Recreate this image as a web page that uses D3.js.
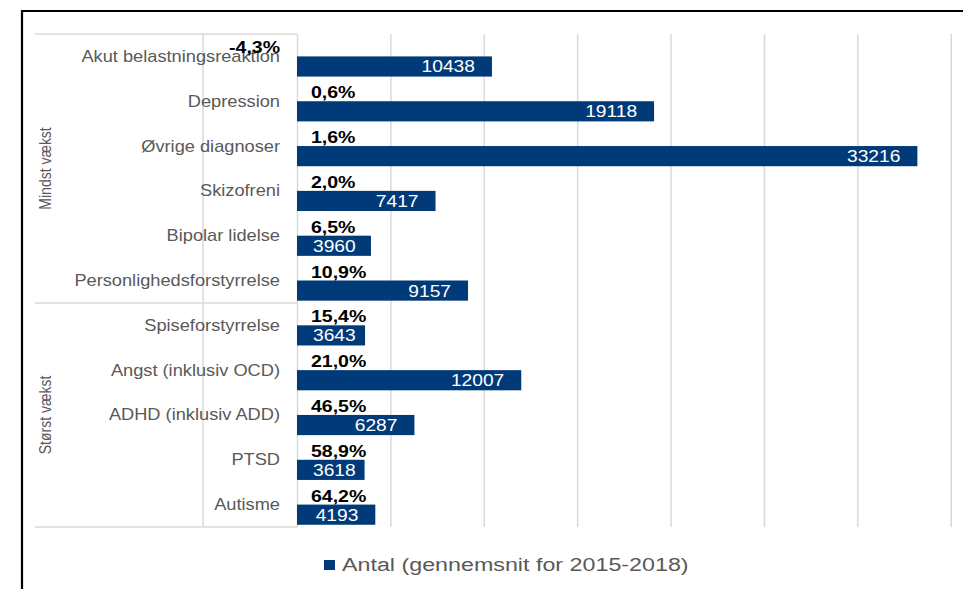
<!DOCTYPE html>
<html>
<head>
<meta charset="utf-8">
<script src="https://cdn.jsdelivr.net/npm/d3@7"></script>
<style>
  html, body { margin: 0; padding: 0; background: #fff; }
  svg { display: block; font-family: "Liberation Sans", Arial, sans-serif; }
</style>
</head>
<body>
<svg id="chart" width="963" height="589"></svg>
<script>
// data
const categories = ["Akut belastningsreaktion", "Depression", "Øvrige diagnoser", "Skizofreni",
  "Bipolar lidelse", "Personlighedsforstyrrelse", "Spiseforstyrrelse", "Angst (inklusiv OCD)",
  "ADHD (inklusiv ADD)", "PTSD", "Autisme"];
const antal = [10438, 19118, 33216, 7417, 3960, 9157, 3643, 12007, 6287, 3618, 4193];
const growth = [-4.3, 0.6, 1.6, 2.0, 6.5, 10.9, 15.4, 21.0, 46.5, 58.9, 64.2];
const groupNames = ["Mindst vækst", "Størst vækst"];
const groupOf = [0, 0, 0, 0, 0, 0, 1, 1, 1, 1, 1];
const gridTicks = [0, 5000, 10000, 15000, 20000, 25000, 30000, 35000];
const legendLabel = "Antal (gennemsnit for 2015-2018)";

const navy = "#003a78";
const grey = "#595959";
const gridCol = "#d9d9d9";

const svg = d3.select("#chart");
const yTop = 34, yBottom = 527;
const x = d3.scaleLinear().domain([0, 35000]).range([297, 950.7]);
const y = d3.scaleBand().domain(categories).range([yTop, yBottom]).padding(0);
const bw = y.bandwidth();

// outer frame (only top + left visible)
svg.append("line").attr("x1", 21).attr("x2", 963).attr("y1", 11).attr("y2", 11)
  .attr("stroke", "#000").attr("stroke-width", 2.2);
svg.append("line").attr("x1", 22).attr("x2", 22).attr("y1", 10).attr("y2", 589)
  .attr("stroke", "#000").attr("stroke-width", 2.2);

// stretched text helper (the picture is widened horizontally)
function stretchText(g, tx, ty, str, opts) {
  const s = opts.sx || 1.15;
  return g.append("text")
    .attr("transform", `translate(${tx},${ty}) scale(${s},1)`)
    .attr("text-anchor", opts.anchor || "start")
    .attr("font-size", opts.size || 16)
    .attr("font-weight", opts.weight || "normal")
    .attr("fill", opts.fill || grey)
    .text(str);
}

// gridlines through d3 axis
const grid = svg.append("g").attr("transform", `translate(0,${yTop})`)
  .call(d3.axisTop(x).tickValues(gridTicks).tickSize(-(yBottom - yTop)).tickFormat(""));
grid.select(".domain").remove();
grid.selectAll(".tick line").attr("stroke", gridCol).attr("stroke-width", 1.5);

// category table lines
const table = svg.append("g").attr("stroke", gridCol).attr("stroke-width", 1.5);
table.append("line").attr("x1", 35).attr("x2", x(0)).attr("y1", yTop).attr("y2", yTop);
table.append("line").attr("x1", 35).attr("x2", x(0)).attr("y1", yBottom).attr("y2", yBottom);
table.append("line").attr("x1", 203).attr("x2", 203).attr("y1", yTop).attr("y2", yBottom);
const splitIdx = groupOf.indexOf(1);
table.append("line").attr("x1", 35).attr("x2", x(0))
  .attr("y1", y(categories[splitIdx])).attr("y2", y(categories[splitIdx]));

// group labels
groupNames.forEach((gname, gi) => {
  const idx = groupOf.map((g, i) => g === gi ? i : -1).filter(i => i >= 0);
  const y0 = y(categories[idx[0]]);
  const y1 = y(categories[idx[idx.length - 1]]) + bw;
  svg.append("text")
    .attr("transform", `translate(51,${(y0 + y1) / 2}) rotate(-90) scale(1,1.12)`)
    .attr("text-anchor", "middle")
    .attr("font-size", 14)
    .attr("fill", grey)
    .text(gname);
});

// category labels
const labels = svg.append("g");
categories.forEach(c => {
  stretchText(labels, 280, y(c) + bw / 2 + 5.5, c, { anchor: "end", size: 16, sx: 1.14 });
});

// bars
svg.append("g").selectAll("rect")
  .data(categories)
  .join("rect")
  .attr("x", x(0))
  .attr("y", c => y(c) + bw * 0.5)
  .attr("width", (c, i) => x(antal[i]) - x(0))
  .attr("height", bw * 0.45)
  .attr("fill", navy);

// value labels inside bars
const vals = svg.append("g");
categories.forEach((c, i) => {
  const sx = 1.2;
  const ty = y(c) + bw * 0.725 + 6;
  const t = stretchText(vals, 0, ty, String(antal[i]),
    { anchor: "end", size: 16, sx: sx, fill: "#fff" });
  const w = t.node().getComputedTextLength() * sx;
  const endX = Math.max(x(antal[i]) - 17, x(0) + 16 + w);
  t.attr("transform", `translate(${endX},${ty}) scale(${sx},1)`);
});

// growth labels
const fmt = v => v.toFixed(1).replace(".", ",") + "%";
const pct = svg.append("g");
categories.forEach((c, i) => {
  const v = growth[i];
  if (v < 0) {
    stretchText(pct, x(0) - 17, y(c) + 19, fmt(v), { anchor: "end", size: 16, weight: "bold", sx: 1.22, fill: "#000" });
  } else {
    stretchText(pct, x(0) + 14, y(c) + 19.5, fmt(v), { anchor: "start", size: 16, weight: "bold", sx: 1.22, fill: "#000" });
  }
});

// legend
svg.append("rect").attr("x", 324).attr("y", 560).attr("width", 11).attr("height", 10).attr("fill", navy);
stretchText(svg, 342, 571, legendLabel, { size: 19, sx: 1.225 });
</script>
</body>
</html>
